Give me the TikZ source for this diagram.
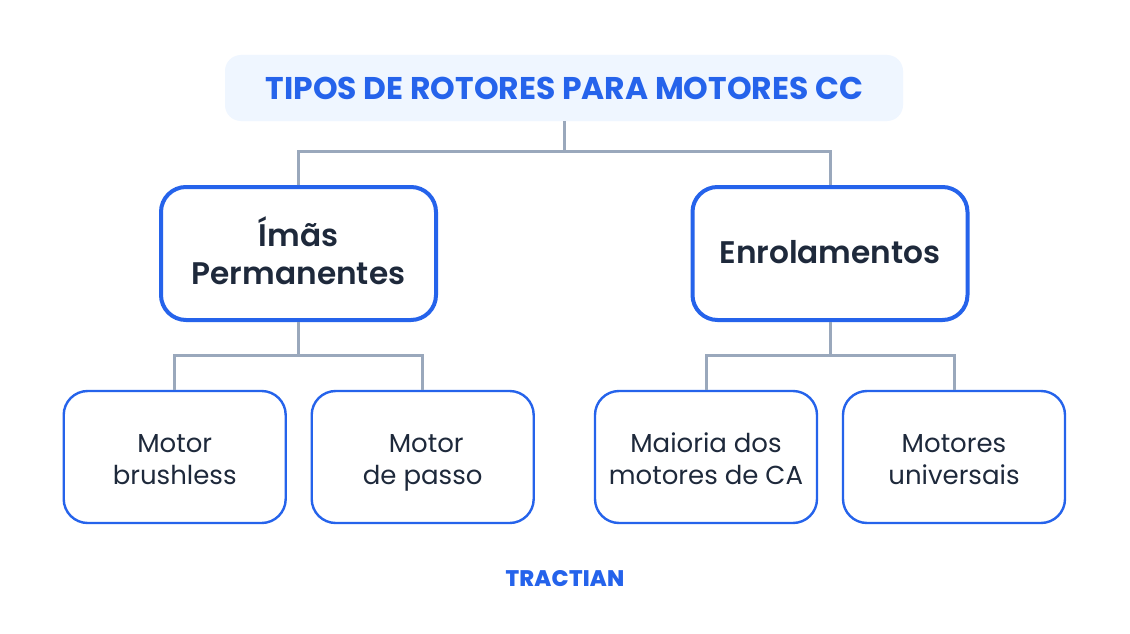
\documentclass[tikz,border=0pt]{standalone}
\usepackage{fontspec}
\setmainfont{Poppins}
\newfontfamily\popsemi{Poppins}[UprightFont=* SemiBold,BoldFont=* Bold]
\newfontfamily\poplogo{Poppins}[UprightFont=* ExtraBold,LetterSpace=1]
\definecolor{tblue}{HTML}{2563EB}
\definecolor{tpale}{HTML}{EFF6FF}
\definecolor{tline}{HTML}{9AA8BC}
\definecolor{tdark}{HTML}{1E293B}
\newcommand{\smalltop}{\rule{0pt}{32.4pt}}
\newcommand{\bigtop}{\rule{0pt}{34.4pt}}
\newcommand{\onetop}{\rule{0pt}{31pt}}
\tikzset{
 px/.style={x=1pt,y=-1pt},
 bigbox/.style={draw=tblue,line width=4pt,rounded corners=25pt,minimum width=275pt,minimum height=133pt,fill=white,align=center,text=tdark,font=\popsemi\fontsize{31.2}{38}\selectfont,inner sep=0pt},
 smallbox/.style={draw=tblue,line width=2.4pt,rounded corners=24pt,minimum width=222pt,minimum height=132pt,fill=white,align=center,text=tdark,font=\fontsize{26}{32}\selectfont,inner sep=0pt},
 conn/.style={draw=tline,line width=3pt},
}
\begin{document}
\begin{tikzpicture}[px]
\useasboundingbox (0,0) rectangle (1130,634);
\fill[white] (0,0) rectangle (1130,634);
\coordinate (j0) at (564,151.5);
\coordinate (j1) at (298.5,355.5);
\coordinate (j2) at (830,355.5);
\node[fill=tpale,rounded corners=16pt,minimum width=678pt,minimum height=66pt,inner sep=0pt] (title) at (564,88) {};
\node[bigbox] (ima) at (298.5,253.5) {\bigtop Ímãs\strut\\Permanentes\strut};
\node[bigbox] (enr) at (830,253.5) {\onetop Enrolamentos\strut};
\node[smallbox] (mb) at (174.7,457) {\smalltop Motor\strut\\brushless\strut};
\node[smallbox] (mp) at (422.7,457) {\smalltop\hspace*{7pt}Motor\strut\\de passo\strut};
\node[smallbox] (mc) at (706,457) {\smalltop Maioria dos\strut\\motores de CA\strut};
\node[smallbox] (mu) at (954,457) {\smalltop Motores\strut\\universais\strut};
\draw[conn] (title.south) -- (j0);
\draw[conn] (ima.north) |- (j0) -| (enr.north);
\draw[conn] (ima.south) -- (j1);
\draw[conn] (mb.north) |- (j1) -| (mp.north);
\draw[conn] (enr.south) -- (j2);
\draw[conn] (mc.north) |- (j2) -| (mu.north);
\node[text=tblue,font=\popsemi\bfseries\fontsize{31.4}{34}\selectfont,inner sep=0pt] at (564.5,88.5) {TIPOS DE ROTORES PARA MOTORES CC};
\node[text=tblue,font=\poplogo\fontsize{22.5}{24}\selectfont,inner sep=0pt] (logo) at (565,578.5) {TRACTIAN};
\end{tikzpicture}
\end{document}
